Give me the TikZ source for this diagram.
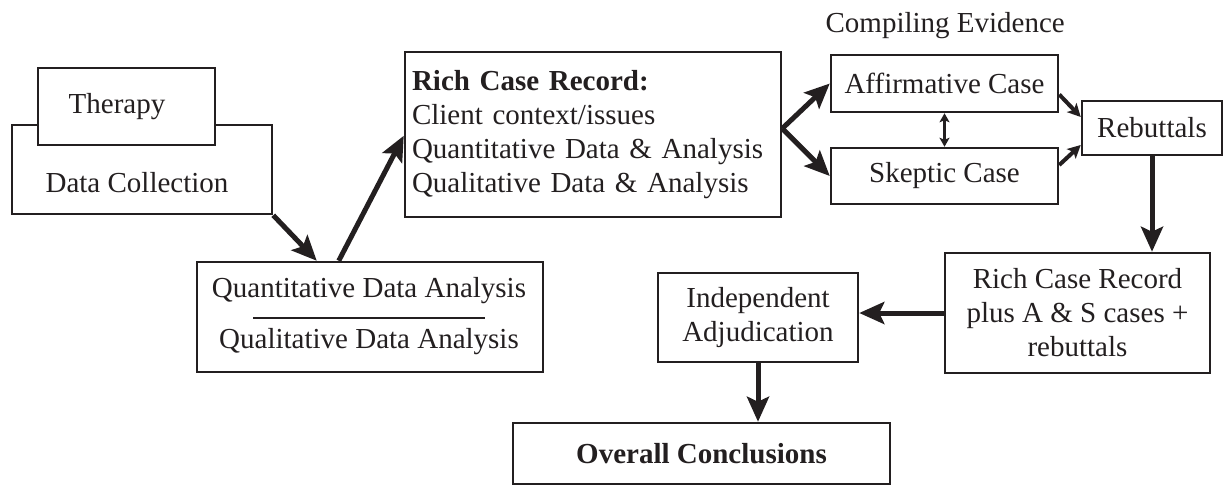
\documentclass[tikz,border=0pt]{standalone}
\usepackage{fontspec}
\setmainfont{Liberation Serif}
\usetikzlibrary{arrows.meta,calc}
\definecolor{ink}{HTML}{231F20}
\tikzset{
  box/.style={draw=ink, line width=2.5pt, fill=white, inner sep=0pt, text=ink, align=center},
  txt/.style={inner sep=0pt, text=ink, align=center},
  bigarrow/.style={draw=ink, line width=5pt, -{Stealth[length=25pt,width=22pt,inset=5pt]}},
  midarrow/.style={draw=ink, line width=4pt, -{Stealth[length=13pt,width=13pt,inset=3pt]}},
  smallarrow/.style={draw=ink, line width=2.5pt, {Stealth[length=9pt,width=10pt,inset=2pt]}-{Stealth[length=9pt,width=10pt,inset=2pt]}},
}
\begin{document}
\begin{tikzpicture}[x=1pt, y=-1pt, font=\fontsize{29}{34}\selectfont, line join=miter]
\useasboundingbox (0,0) rectangle (1225,485);

% data collection with the therapy box laid over its top edge
\node[box, minimum width=260pt, minimum height=89pt] (dc) at (142,169.5) {};
\node[txt] (dct) at (137,183) {Data Collection};
\node[box, minimum width=177pt, minimum height=77pt] (th) at (126.5,106.5) {};
\node[txt] (tht) at (117,107) {Therapy};

% quantitative / qualitative analysis
\node[box, minimum width=346pt, minimum height=110pt] (q) at (370,317) {};
\node[txt] (qa) at (369,291) {Quantitative Data Analysis};
\node[txt] (qb) at (369,342) {Qualitative Data Analysis};
\coordinate (dl) at (253,318);
\coordinate (dr) at (485,318);
\draw[ink, line width=2.5pt] (dl) -- (dr);

% rich case record
\node[box, minimum width=376pt, minimum height=165pt, text width=362pt, align=left] (rich) at (593,134.5)
  {\textbf{Rich Case Record:}\\Client context/issues\\Quantitative Data \& Analysis\\Qualitative Data \& Analysis};

% compiling evidence
\node[txt, anchor=base east] (ce) at (1065,32) {Compiling Evidence};
\node[box, minimum width=227pt, minimum height=57pt] (aff) at (944.5,83.5) {Affirmative Case};
\node[box, minimum width=227pt, minimum height=56pt] (sk) at (944.5,176) {Skeptic Case};
\node[box, minimum width=140pt, minimum height=54pt] (reb) at (1152,128) {Rebuttals};

% later stages
\node[box, minimum width=265pt, minimum height=120pt] (plus) at (1077.5,313)
  {Rich Case Record\\plus A \& S cases +\\rebuttals};
\node[box, minimum width=200pt, minimum height=89pt] (ind) at (758,317.5)
  {Independent\\Adjudication};
\node[box, minimum width=377pt, minimum height=61pt, font=\fontsize{29}{34}\selectfont\bfseries] (ov) at (701.5,453.5)
  {Overall Conclusions};

% connectors
\draw[bigarrow] (dc.south east) -- ($(q.north west)+(121,0)$);
\draw[bigarrow] ($(q.north west)+(143,0)$) -- ($(rich.north west)+(0,85)$);
\draw[bigarrow] ($(rich.east)+(0,-6)$) -- (aff.west);
\draw[bigarrow] ($(rich.east)+(0,-6)$) -- (sk.west);
\draw[smallarrow] (aff.south) -- (sk.north);
\draw[midarrow] ($(aff.east)+(0,11)$) -- ($(reb.west)+(0,-11)$);
\draw[midarrow] ($(sk.east)+(0,-11)$) -- ($(reb.west)+(0,17)$);
\draw[bigarrow] (reb.south) -- (reb.south |- plus.north);
\draw[bigarrow] (plus.west) -- (plus.west -| ind.east);
\draw[bigarrow] (ind.south) -- (ind.south |- ov.north);
\end{tikzpicture}
\end{document}
